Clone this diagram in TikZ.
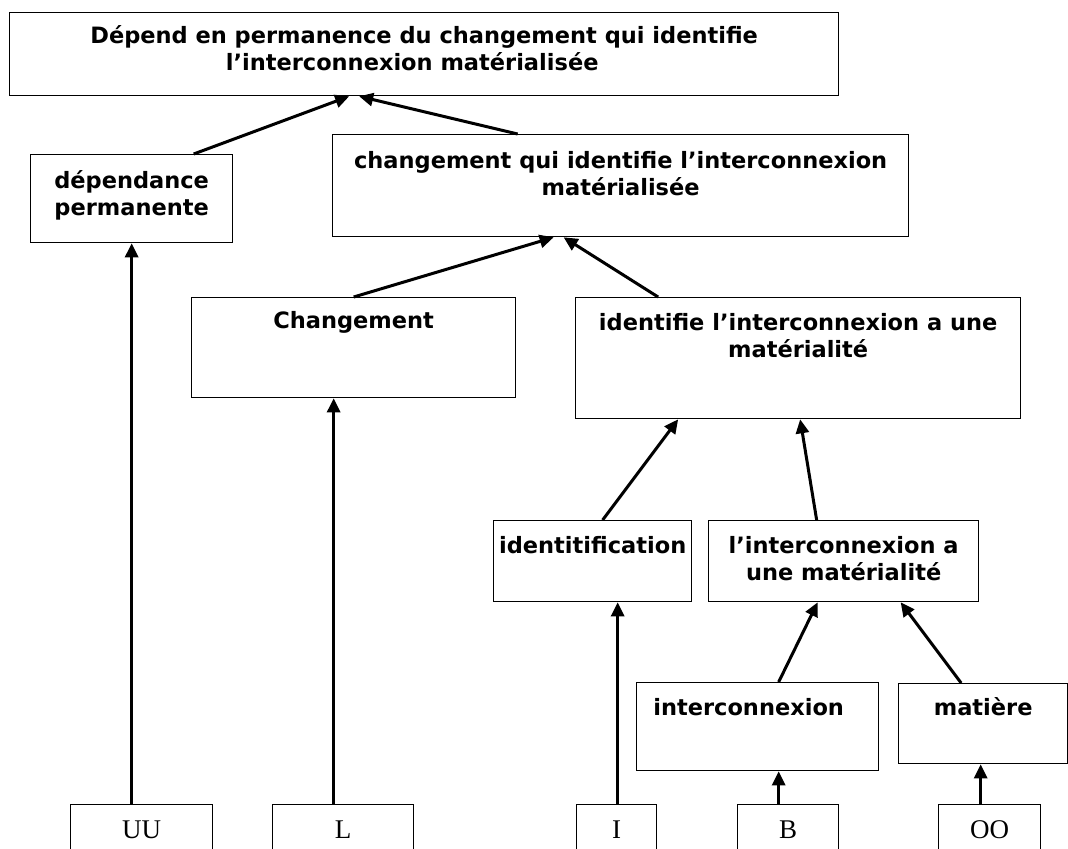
\documentclass[tikz,border=0pt]{standalone}
\usepackage{fontspec}
\setmainfont{Liberation Serif}
\newfontfamily\verd{DejaVu Sans}
\usetikzlibrary{arrows.meta}

% box content: width, height, first baseline, text
\newcommand{\boite}[4]{\parbox[c][#2][t]{#1}{\centering\rule{0pt}{#3}#4}}

\begin{document}
\begin{tikzpicture}[x=0.5pt,y=-0.5pt,
  cadre/.style={draw,line width=0.65pt,inner sep=0pt,anchor=north west,
    font=\verd\bfseries\fontsize{11.25}{13.5}\selectfont},
  lettre/.style={draw,line width=0.65pt,inner sep=0pt,anchor=north west,
    font=\fontsize{13.5}{16}\selectfont},
  fleche/.style={-{Triangle[length=7pt,width=6.5pt]},line width=1.5pt}]
\clip (0,0) rectangle (1068,848);

\node[cadre] (top) at (9,12) {\boite{414.5pt}{41.5pt}{15.5pt}{D\'epend en permanence du changement qui identifie\\ l’interconnexion mat\'erialis\'ee\hspace*{12pt}}};
\node[cadre] (dep) at (30,154) {\boite{101pt}{44pt}{17pt}{d\'ependance\\ permanente}};
\node[cadre] (cqi) at (332,134) {\boite{288pt}{51pt}{17pt}{changement qui identifie l’interconnexion\\ mat\'erialis\'ee}};
\node[cadre] (chg) at (191,297) {\boite{162pt}{50pt}{15.5pt}{Changement}};
\node[cadre] (idf) at (575,297) {\boite{222.5pt}{60.5pt}{16.5pt}{identifie l’interconnexion a une\\ mat\'erialit\'e}};
\node[cadre] (ident) at (493,520) {\boite{99pt}{40.5pt}{16.5pt}{identitification}};
\node[cadre] (lint) at (708,520) {\boite{135pt}{40.5pt}{16.5pt}{l’interconnexion a\\ une mat\'erialit\'e}};
\node[cadre] (inter) at (636,682) {\boite{121pt}{44pt}{16.5pt}{interconnexion\hspace*{9pt}}};
\node[cadre] (mat) at (898,683) {\boite{84.5pt}{40pt}{16pt}{mati\`ere}};

% letters along the bottom
\node[lettre] (uu) at (70,804) {\boite{71pt}{30pt}{17pt}{UU}};
\node[lettre] (l) at (272,804) {\boite{70.5pt}{30pt}{17pt}{L}};
\node[lettre] (i) at (576,804) {\boite{40pt}{30pt}{17pt}{I}};
\node[lettre] (b) at (737,804) {\boite{50.5pt}{30pt}{17pt}{B}};
\node[lettre] (oo) at (938,804) {\boite{51pt}{30pt}{17pt}{OO}};

\draw[fleche] ([xshift=31pt]dep.north) -- ([xshift=-37.5pt]top.south);
\draw[fleche] ([xshift=-51.5pt]cqi.north) -- ([xshift=-32.5pt]top.south);
\draw[fleche] (chg.north) -- ([xshift=-33.5pt]cqi.south);
\draw[fleche] ([xshift=-70pt]idf.north) -- ([xshift=-28.5pt]cqi.south);
\draw[fleche] ([xshift=5pt]ident.north) -- ([xshift=-60pt]idf.south);
\draw[fleche] ([xshift=-13.5pt]lint.north) -- ([xshift=1pt]idf.south);
\draw[fleche] ([xshift=10.5pt]inter.north) -- ([xshift=-13pt]lint.south);
\draw[fleche] ([xshift=-11pt]mat.north) -- ([xshift=28.5pt]lint.south);

\draw[fleche] (uu.north -| dep.south) -- (dep.south);
\draw[fleche] ([xshift=-4.75pt]l.north) -- ([xshift=-10pt]chg.south);
\draw[fleche] ([xshift=0.5pt]i.north) -- ([xshift=12.5pt]ident.south);
\draw[fleche] ([xshift=-4.75pt]b.north) -- ([xshift=10.5pt]inter.south);
\draw[fleche] ([xshift=-4.5pt]oo.north) -- ([xshift=-1.25pt]mat.south);
\end{tikzpicture}
\end{document}
